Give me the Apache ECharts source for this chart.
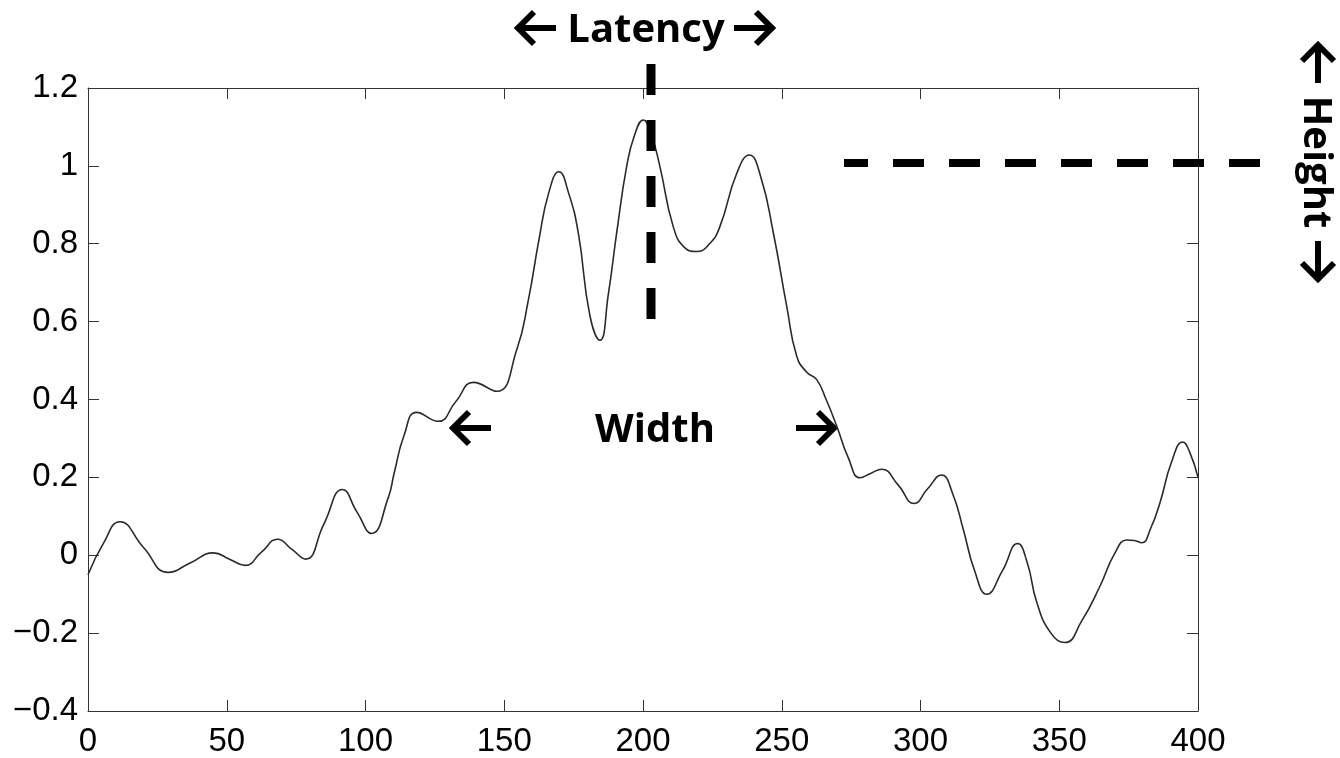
<!DOCTYPE html>
<html>
<head>
<meta charset="utf-8">
<title>Waveform</title>
<script src="https://cdn.jsdelivr.net/npm/echarts@6/dist/echarts.min.js"></script>
<style>
  html, body { margin: 0; padding: 0; background: #fff; }
  #chart { width: 1340px; height: 758px; }
</style>
</head>
<body>
<div id="chart"></div>
<script>
// points (time, amplitude)
const timePoints = [
  0, 5.5, 11.5, 20, 28.9, 37, 45.2, 51, 56.6, 62.5, 68.3, 73.5, 78.4, 85, 91.7, 97,
  102.2, 108.2, 110.3, 114, 118.4, 126.2, 132.5, 138.9, 147.3, 154.5, 158.7, 162.5,
  166, 169.7, 173.2, 176.7, 180.9, 184.5, 187.5, 190.5, 194.1, 197, 200.1, 203, 206.1,
  210.9, 215, 219.3, 224, 227.7, 233.8, 238.3, 242.5, 247, 251.8, 255.4, 259, 262.6,
  266, 269.8, 274, 278.2, 282, 286, 292, 297.7, 302.5, 307.6, 311.5, 315.4, 319.5,
  323.9, 329.5, 335, 338.5, 341.9, 347, 352.1, 358, 364.7, 370, 374.3, 377, 379.7,
  383, 386.3, 390.5, 394.5, 397, 400
]
const amplitude = [
  -0.05, 0.03, 0.086, 0.02, -0.044, -0.019, 0.006, -0.01, -0.026, 0.008, 0.041, 0.015,
  -0.01, 0.08, 0.169, 0.11, 0.056, 0.148, 0.21, 0.31, 0.367, 0.344, 0.394, 0.444, 0.421,
  0.528, 0.656, 0.81, 0.93, 0.985, 0.93, 0.827, 0.614, 0.552, 0.67, 0.827, 0.998, 1.08,
  1.118, 1.08, 0.998, 0.844, 0.79, 0.78, 0.8, 0.844, 0.981, 1.028, 0.97, 0.827, 0.639,
  0.511, 0.47, 0.451, 0.4, 0.332, 0.25, 0.199, 0.21, 0.221, 0.18, 0.133, 0.17, 0.206,
  0.16, 0.067, -0.04, -0.1, -0.04, 0.03, -0.02, -0.121, -0.2, -0.224, -0.17, -0.079,
  0.005, 0.039, 0.038, 0.032, 0.07, 0.135, 0.24, 0.291, 0.265, 0.2
]
const xTicks = { min: 0, max: 400, step: 50 }
const yTicks = { min: -0.4, max: 1.2, step: 0.2 }

const chart = echarts.init(document.getElementById('chart'))

const axisColor = '#333'
const labelFont = { fontSize: 33, color: '#000', fontFamily: '"Liberation Sans", Arial, sans-serif' }
const annoFont = 'bold 40px "Open Sans", "DejaVu Sans", sans-serif'

function boxAxis(range, position, showLabel) {
  return {
    type: 'value',
    position,
    min: range.min,
    max: range.max,
    interval: range.step,
    axisLine: { show: true, onZero: false, lineStyle: { color: axisColor, width: 1 } },
    axisTick: { show: true, inside: true, length: 11, lineStyle: { color: axisColor } },
    axisLabel: showLabel
      ? {
          ...labelFont,
          margin: position === 'bottom' ? 14 : 10,
          formatter: (v) => String(parseFloat(v.toFixed(2))).replace('-', '\u2212'),
        }
      : { show: false },
    splitLine: { show: false },
  }
}

// bold arrow drawn as shaft + chevron; tip at (x, y), angle 0 = pointing left
function arrow(x, y, angle) {
  return {
    type: 'group',
    x, y,
    rotation: angle,
    children: [
      { type: 'line', shape: { x1: 2, y1: 0, x2: 41, y2: 0 }, style: { stroke: '#000', lineWidth: 6 } },
      {
        type: 'polyline',
        shape: { points: [[19, -16], [3, 0], [19, 16]] },
        style: { stroke: '#000', lineWidth: 6, fill: null, lineJoin: 'miter' },
      },
    ],
  }
}

function label(text, x, y, rotation) {
  return {
    type: 'text',
    x, y,
    rotation: rotation || 0,
    style: { text, font: annoFont, fill: '#000', align: 'center', verticalAlign: 'middle' },
  }
}

chart.setOption({
  animation: false,
  backgroundColor: '#fff',
  grid: { left: 88, right: 142, top: 88, bottom: 46 },
  xAxis: [boxAxis(xTicks, 'bottom', true), boxAxis(xTicks, 'top', false)],
  yAxis: [boxAxis(yTicks, 'left', true), boxAxis(yTicks, 'right', false)],
  series: [
    {
      type: 'line',
      data: timePoints.map((t, i) => [t, amplitude[i]]),
      showSymbol: false,
      smooth: 0.5,
      lineStyle: { color: '#2a2a2a', width: 1.6 },
    },
  ],
  graphic: [
    // latency marker
    {
      type: 'line',
      shape: { x1: 651, y1: 64, x2: 651, y2: 320 },
      style: { stroke: '#000', lineWidth: 9, lineDash: [31, 25] },
      z: 10,
    },
    label('Latency', 646, 31),
    arrow(515, 28, 0),
    arrow(775, 28, Math.PI),
    // height marker
    {
      type: 'line',
      shape: { x1: 844, y1: 163, x2: 1260, y2: 163 },
      style: { stroke: '#000', lineWidth: 8, lineDash: [31, 25], lineDashOffset: 7 },
      z: 10,
    },
    label('Height', 1315, 162, -Math.PI / 2),
    arrow(1318, 42, -Math.PI / 2),
    arrow(1318, 282, Math.PI / 2),
    // width marker
    label('Width', 655, 431),
    arrow(450, 428, 0),
    arrow(837, 428, Math.PI),
  ],
})

window.addEventListener('resize', () => chart.resize())
</script>
</body>
</html>
